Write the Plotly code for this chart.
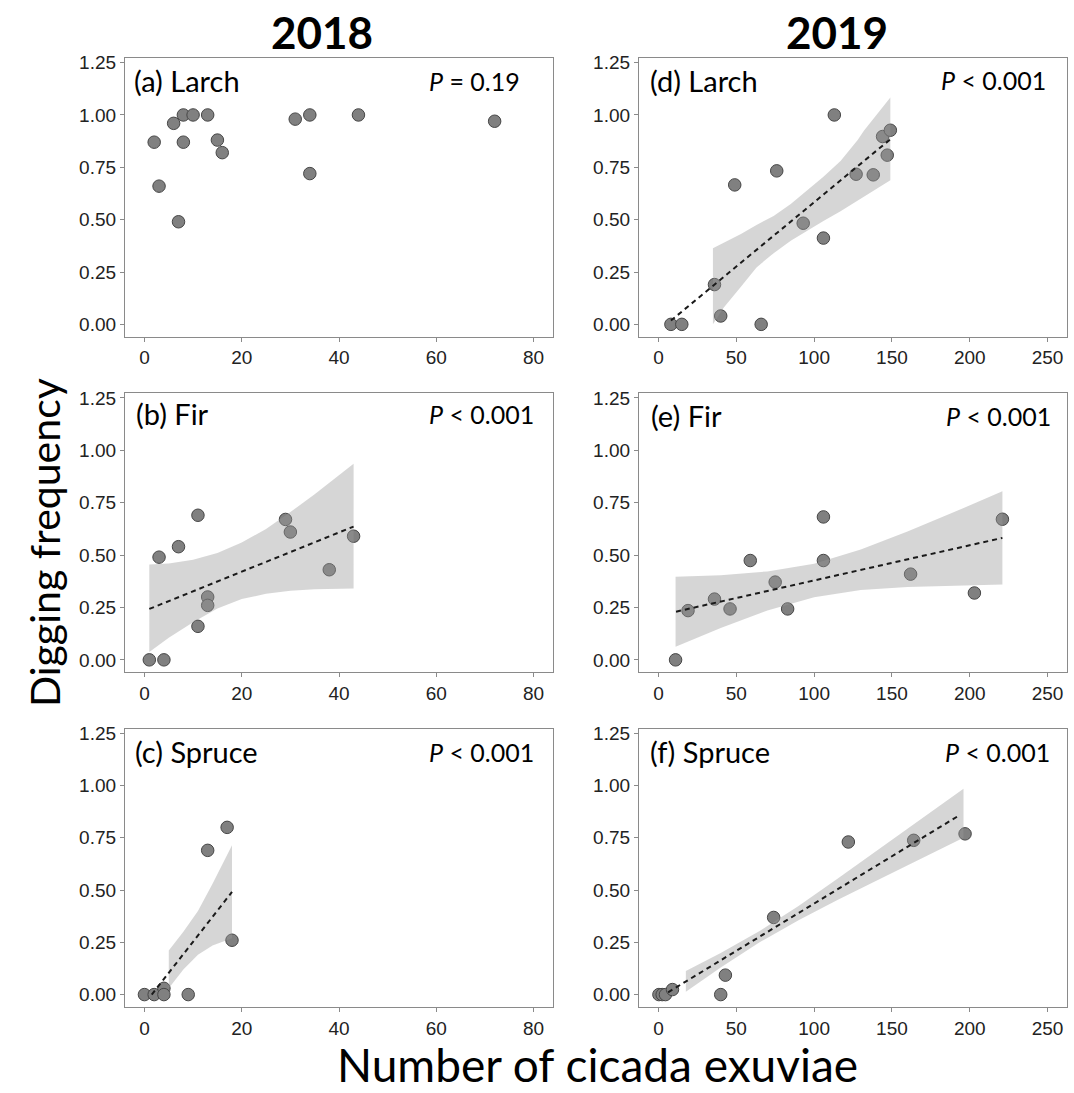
import plotly.graph_objects as go
from plotly.subplots import make_subplots

W, H = 1074, 1093

# ---------------- data ----------------
larch18_x = [2, 3, 6, 7, 8, 8, 10, 13, 15, 16, 31, 34, 34, 44, 72]
larch18_y = [0.87, 0.66, 0.96, 0.49, 1.0, 0.87, 1.0, 1.0, 0.88, 0.82, 0.98, 1.0, 0.72, 1.0, 0.97]

fir18_x = [1, 4, 3, 7, 11, 11, 13, 13, 29, 30, 38, 43]
fir18_y = [0, 0, 0.49, 0.54, 0.69, 0.16, 0.30, 0.26, 0.67, 0.61, 0.43, 0.59]
fir18_fit_x = [1, 43]
fir18_fit_y = [0.243, 0.636]
fir18_band_x = [1, 5, 10, 15, 20, 25, 30, 35, 43]
fir18_band_hi = [0.455, 0.460, 0.478, 0.510, 0.560, 0.625, 0.705, 0.790, 0.936]
fir18_band_lo = [0.038, 0.105, 0.180, 0.245, 0.290, 0.315, 0.330, 0.337, 0.340]

spruce18_x = [0, 2, 4, 4, 9, 13, 17, 18]
spruce18_y = [0, 0, 0.03, 0, 0, 0.69, 0.80, 0.26]
spruce18_fit_x = [1.5, 18]
spruce18_fit_y = [0.0, 0.491]
spruce18_band_x = [5, 8, 11, 14, 18]
spruce18_band_hi = [0.211, 0.300, 0.400, 0.530, 0.715]
spruce18_band_lo = [0.030, 0.120, 0.190, 0.235, 0.270]

larch19_x = [8, 15, 36, 40, 49, 66, 76, 93, 106, 113, 127, 138, 144, 147, 149]
larch19_y = [0, 0, 0.19, 0.04, 0.666, 0, 0.733, 0.483, 0.412, 1.0, 0.717, 0.714, 0.897, 0.808, 0.927]
larch19_fit_x = [8, 149]
larch19_fit_y = [0.018, 0.884]
larch19_band_x = [35, 42, 53, 63, 74, 85, 95, 106, 117, 128, 132, 149]
larch19_band_hi = [0.364, 0.39, 0.431, 0.475, 0.518, 0.575, 0.637, 0.705, 0.780, 0.88, 0.924, 1.083]
larch19_band_lo = [0.0, 0.081, 0.18, 0.272, 0.34, 0.399, 0.445, 0.494, 0.54, 0.590, 0.61, 0.688]

fir19_x = [11, 19, 36, 46, 59, 75, 83, 106, 106, 162, 203, 221]
fir19_y = [0, 0.235, 0.29, 0.243, 0.474, 0.371, 0.243, 0.682, 0.474, 0.409, 0.319, 0.671]
fir19_fit_x = [11.3, 221]
fir19_fit_y = [0.230, 0.582]
fir19_band_x = [11, 40, 70, 100, 130, 160, 190, 221]
fir19_band_hi = [0.397, 0.404, 0.422, 0.459, 0.526, 0.612, 0.705, 0.805]
fir19_band_lo = [0.063, 0.152, 0.236, 0.299, 0.333, 0.348, 0.355, 0.360]

spruce19_x = [0.3, 2.4, 4.5, 9, 40, 43, 74, 122, 164, 197]
spruce19_y = [0, 0, 0, 0.024, 0, 0.093, 0.369, 0.730, 0.738, 0.769]
spruce19_fit_x = [6.2, 193.4]
spruce19_fit_y = [0.011, 0.858]
spruce19_band_x = [17.6, 40, 65, 90, 115, 140, 165, 196]
spruce19_band_hi = [0.113, 0.199, 0.304, 0.424, 0.554, 0.687, 0.822, 0.985]
spruce19_band_lo = [0.013, 0.129, 0.250, 0.356, 0.452, 0.545, 0.638, 0.750]

panel_labels = ["(a) Larch", "(d) Larch", "(b) Fir", "(e) Fir", "(c) Spruce", "(f) Spruce"]
p_labels = ["<i>P</i> = 0.19", "<i>P</i> < 0.001", "<i>P</i> < 0.001",
            "<i>P</i> < 0.001", "<i>P</i> < 0.001", "<i>P</i> < 0.001"]
col_titles = ["2018", "2019"]
y_ticks = [0, 0.25, 0.5, 0.75, 1.0, 1.25]
y_ticktext = ["0.00", "0.25", "0.50", "0.75", "1.00", "1.25"]
x_ticks_2018 = [0, 20, 40, 60, 80]
x_ticks_2019 = [0, 50, 100, 150, 200, 250]

# ---------------- figure ----------------
fig = make_subplots(rows=3, cols=2)

PT_FILL = "rgb(128,128,128)"
PT_EDGE = "rgb(70,70,70)"
BAND = "rgba(153,153,153,0.4)"

panels = [
    (1, 1, larch18_x, larch18_y, None, None, None, None, None),
    (1, 2, larch19_x, larch19_y, larch19_fit_x, larch19_fit_y, larch19_band_x, larch19_band_hi, larch19_band_lo),
    (2, 1, fir18_x, fir18_y, fir18_fit_x, fir18_fit_y, fir18_band_x, fir18_band_hi, fir18_band_lo),
    (2, 2, fir19_x, fir19_y, fir19_fit_x, fir19_fit_y, fir19_band_x, fir19_band_hi, fir19_band_lo),
    (3, 1, spruce18_x, spruce18_y, spruce18_fit_x, spruce18_fit_y, spruce18_band_x, spruce18_band_hi, spruce18_band_lo),
    (3, 2, spruce19_x, spruce19_y, spruce19_fit_x, spruce19_fit_y, spruce19_band_x, spruce19_band_hi, spruce19_band_lo),
]

for (r, c, px, py, fx, fy, bx, bhi, blo) in panels:
    fig.add_trace(go.Scatter(x=px, y=py, mode="markers",
                             marker=dict(size=12.5, color=PT_FILL, line=dict(color=PT_EDGE, width=1)),
                             showlegend=False, hoverinfo="skip"), row=r, col=c)
    if bx is not None:
        fig.add_trace(go.Scatter(x=bx + bx[::-1], y=bhi + blo[::-1], fill="toself",
                                 fillcolor=BAND, line=dict(width=0), mode="lines",
                                 showlegend=False, hoverinfo="skip"), row=r, col=c)
        fig.add_trace(go.Scatter(x=fx, y=fy, mode="lines",
                                 line=dict(color="#1a1a1a", width=2, dash="5px,4px"),
                                 showlegend=False, hoverinfo="skip"), row=r, col=c)

# layout geometry (pixels -> paper fractions)
col_px = [(125, 553), (639, 1067)]
row_px = [(58, 336.5), (393.3, 672), (728.7, 1006.7)]

axis_common = dict(showline=True, mirror=True, linecolor="#8a8a8a", linewidth=1.3,
                   ticks="outside", ticklen=4, tickcolor="#8a8a8a", tickwidth=1,
                   showgrid=False, zeroline=False, automargin=False,
                   tickfont=dict(family="Liberation Sans, Arial", size=19, color="#222222"))

idx = 0
for r in range(3):
    for c in range(2):
        idx += 1
        xa = "xaxis" if idx == 1 else f"xaxis{idx}"
        ya = "yaxis" if idx == 1 else f"yaxis{idx}"
        x0, x1 = col_px[c]
        t0, t1 = row_px[r]
        xticks = x_ticks_2018 if c == 0 else x_ticks_2019
        xrange = [-4, 84] if c == 0 else [-12.5, 262.5]
        fig.layout[xa].update(domain=[x0 / W, x1 / W], range=xrange,
                              tickvals=xticks, **axis_common)
        fig.layout[ya].update(domain=[1 - t1 / H, 1 - t0 / H], range=[-0.058, 1.272],
                              tickvals=y_ticks, ticktext=y_ticktext, **axis_common)

annotations = []
label_pos = [(0.017, 0.918, 0.927), (0.020, 0.92, 0.956), (0.021, 0.926, 0.96),
             (0.024, 0.919, 0.967), (0.019, 0.917, 0.96), (0.021, 0.917, 0.966)]
for i in range(6):
    ax_suffix = "" if i == 0 else str(i + 1)
    lx, ly, px_ = label_pos[i]
    annotations.append(dict(text=panel_labels[i], xref=f"x{ax_suffix} domain", yref=f"y{ax_suffix} domain",
                            x=lx, y=ly, xanchor="left", yanchor="middle", showarrow=False,
                            font=dict(family="Lato", size=29, color="black")))
    annotations.append(dict(text=p_labels[i], xref=f"x{ax_suffix} domain", yref=f"y{ax_suffix} domain",
                            x=px_, y=ly, xanchor="right", yanchor="middle", showarrow=False,
                            font=dict(family="Lato", size=25, color="black")))

for t, cx in zip(col_titles, [322, 837]):
    annotations.append(dict(text=f"<b>{t}</b>", xref="paper", yref="paper", x=cx / W, y=1 - 32 / H,
                            xanchor="center", yanchor="middle", showarrow=False,
                            font=dict(family="Lato", size=44, color="black")))

annotations.append(dict(text="Digging frequency", xref="paper", yref="paper", x=44 / W, y=1 - 543 / H,
                        xanchor="center", yanchor="middle", textangle=-90, showarrow=False,
                        font=dict(family="Lato", size=41, color="black")))
annotations.append(dict(text="Number of cicada exuviae", xref="paper", yref="paper", x=597 / W, y=0.0,
                        xanchor="center", yanchor="bottom", showarrow=False, borderpad=0,
                        font=dict(family="Lato", size=46, color="black")))

fig.update_layout(width=W, height=H, margin=dict(l=0, r=0, t=0, b=0),
                  paper_bgcolor="white", plot_bgcolor="white",
                  annotations=annotations, showlegend=False)

fig.write_html("out.html")
